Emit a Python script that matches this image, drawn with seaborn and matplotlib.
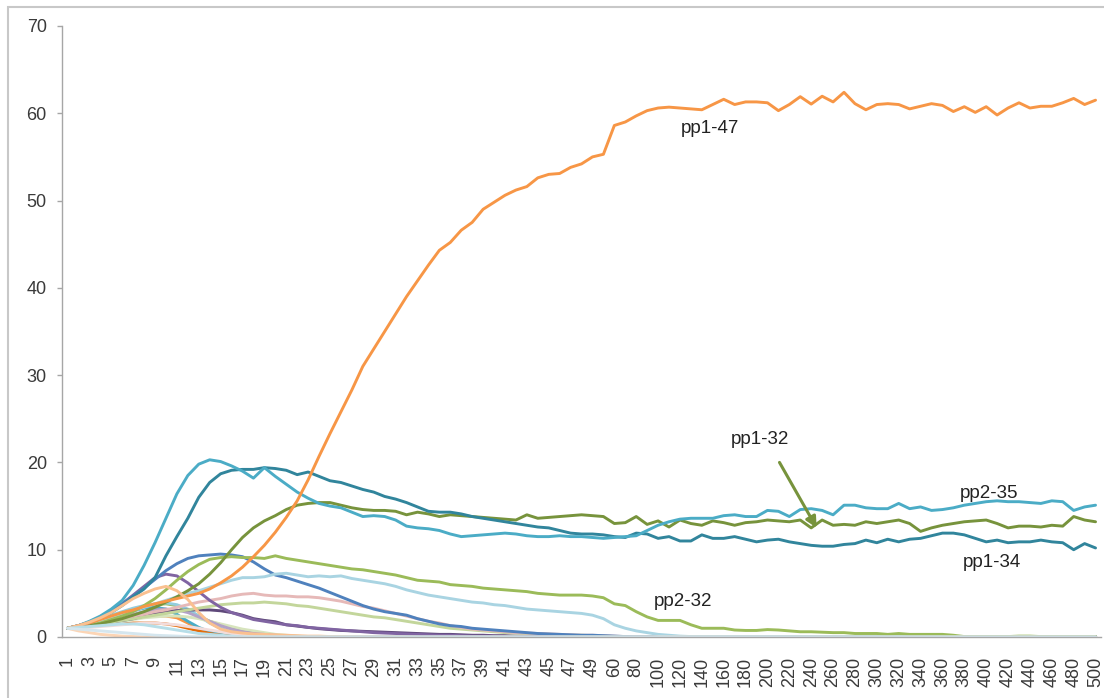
import matplotlib
matplotlib.use("Agg")
import matplotlib.pyplot as plt
import seaborn as sns
import pandas as pd
from matplotlib.patches import Rectangle

# x categories: 1..50 then 60..500 in steps of 10
categories = [str(c) for c in list(range(1, 51)) + list(range(60, 501, 10))]

# ---- labelled series ----
pp1_47 = [
    1.0, 1.3, 1.6, 2.0, 2.4, 2.8, 3.1, 3.5, 3.8, 4.1,
    4.4, 4.7, 5.0, 5.5, 6.2, 7.0, 8.0, 9.2, 10.5, 12.0,
    13.7, 15.6, 18.0, 20.7, 23.3, 25.8, 28.3, 31.0, 33.0, 35.0,
    37.0, 39.0, 40.8, 42.6, 44.3, 45.2, 46.6, 47.5, 49.0, 49.8,
    50.6, 51.2, 51.6, 52.6, 53.0, 53.1, 53.8, 54.2, 55.0, 55.3,
    58.6, 59.0, 59.7, 60.3, 60.6, 60.7, 60.6, 60.5, 60.4, 61.0,
    61.6, 61.0, 61.3, 61.3, 61.2, 60.3, 61.0, 61.9, 61.05, 61.95,
    61.3, 62.4, 61.1, 60.4, 61.0, 61.1, 61.0, 60.5, 60.8, 61.1,
    60.9, 60.2, 60.75, 60.1, 60.75, 59.8, 60.6, 61.2, 60.6, 60.8,
    60.8, 61.2, 61.7, 61.0, 61.5,
]
pp2_35 = [
    1.0, 1.3, 1.8, 2.4, 3.2, 4.2, 5.9, 8.2, 10.8, 13.6,
    16.4, 18.5, 19.8, 20.3, 20.1, 19.6, 19.0, 18.2, 19.4, 18.4,
    17.5, 16.6, 15.9, 15.3, 15.0, 14.8, 14.3, 13.8, 13.9, 13.8,
    13.4, 12.7, 12.5, 12.4, 12.2, 11.8, 11.5, 11.6, 11.7, 11.8,
    11.9, 11.8, 11.6, 11.5, 11.5, 11.6, 11.5, 11.5, 11.4, 11.3,
    11.4, 11.5, 11.6, 12.2, 12.8, 13.2, 13.5, 13.6, 13.6, 13.6,
    13.9, 14.0, 13.8, 13.8, 14.5, 14.4, 13.8, 14.6, 14.7, 14.5,
    14.0, 15.1, 15.1, 14.8, 14.7, 14.7, 15.3, 14.7, 14.9, 14.5,
    14.6, 14.8, 15.1, 15.3, 15.5, 15.6, 15.5, 15.5, 15.4, 15.3,
    15.6, 15.5, 14.5, 14.9, 15.1,
]
pp1_34 = [
    1.0, 1.2, 1.6, 2.1, 2.8, 3.6, 4.6, 5.5, 6.8, 9.3,
    11.5, 13.6, 16.0, 17.7, 18.7, 19.1, 19.2, 19.2, 19.4, 19.3,
    19.1, 18.6, 18.9, 18.4, 17.9, 17.7, 17.3, 16.9, 16.6, 16.1,
    15.8, 15.4, 14.9, 14.4, 14.3, 14.3, 14.1, 13.8, 13.6, 13.4,
    13.2, 13.0, 12.8, 12.6, 12.5, 12.2, 11.9, 11.8, 11.8, 11.7,
    11.5, 11.4, 11.9, 11.8, 11.3, 11.5, 11.0, 11.0, 11.7, 11.3,
    11.3, 11.5, 11.2, 10.9, 11.1, 11.2, 10.9, 10.7, 10.5, 10.4,
    10.4, 10.6, 10.7, 11.1, 10.8, 11.2, 10.9, 11.2, 11.3, 11.6,
    11.9, 11.9, 11.7, 11.3, 10.9, 11.1, 10.8, 10.9, 10.9, 11.1,
    10.9, 10.8, 10.0, 10.7, 10.2,
]
pp1_32 = [
    1.0, 1.1, 1.3, 1.5, 1.8, 2.1, 2.5, 2.9, 3.4, 4.0,
    4.6, 5.3, 6.1, 7.2, 8.5, 10.0, 11.4, 12.5, 13.3, 13.9,
    14.6, 15.1, 15.3, 15.4, 15.4, 15.1, 14.8, 14.6, 14.5, 14.5,
    14.4, 14.0, 14.3, 14.1, 13.8, 14.0, 13.9, 13.8, 13.7, 13.6,
    13.5, 13.4, 14.0, 13.6, 13.7, 13.8, 13.9, 14.0, 13.9, 13.8,
    13.0, 13.1, 13.8, 12.9, 13.3, 12.6, 13.4, 13.0, 12.8, 13.3,
    13.1, 12.8, 13.1, 13.2, 13.4, 13.3, 13.2, 13.4, 12.5, 13.4,
    12.8, 12.9, 12.8, 13.2, 13.0, 13.2, 13.4, 13.0, 12.1, 12.5,
    12.8, 13.0, 13.2, 13.3, 13.4, 13.0, 12.5, 12.7, 12.7, 12.6,
    12.8, 12.7, 13.8, 13.4, 13.2,
]
pp2_32 = [
    1.0, 1.15, 1.35, 1.6, 2.0, 2.4, 2.9, 3.6, 4.4, 5.4,
    6.5, 7.5, 8.3, 8.9, 9.1, 9.2, 9.1, 9.1, 9.0, 9.3,
    9.0, 8.8, 8.6, 8.4, 8.2, 8.0, 7.8, 7.7, 7.5, 7.3,
    7.1, 6.8, 6.5, 6.4, 6.3, 6.0, 5.9, 5.8, 5.6, 5.5,
    5.4, 5.3, 5.2, 5.0, 4.9, 4.8, 4.8, 4.8, 4.7, 4.5,
    3.8, 3.6, 2.9, 2.3, 1.9, 1.9, 1.9, 1.4, 1.0, 1.0,
    1.0, 0.8, 0.75, 0.75, 0.85, 0.8, 0.7, 0.6, 0.6, 0.55,
    0.5, 0.5, 0.4, 0.4, 0.4, 0.3, 0.4, 0.3, 0.3, 0.3,
    0.3, 0.2, 0.05, 0.05, 0.05, 0.05, 0.05, 0.1, 0.1, 0.05,
    0.05, 0.05, 0.05, 0.05, 0.05,
]

# ---- unlabelled mid-size series ----
lightblue = [
    1.0, 1.2, 1.5, 1.8, 2.2, 2.6, 3.0, 3.4, 3.8, 4.2,
    4.6, 5.0, 5.3, 5.7, 6.1, 6.5, 6.8, 6.8, 6.9, 7.2,
    7.3, 7.1, 6.9, 7.0, 6.9, 7.0, 6.7, 6.5, 6.3, 6.1,
    5.8, 5.4, 5.1, 4.8, 4.6, 4.4, 4.2, 4.0, 3.9, 3.7,
    3.6, 3.4, 3.2, 3.1, 3.0, 2.9, 2.8, 2.7, 2.5, 2.1,
    1.4, 1.0, 0.7, 0.5, 0.3, 0.2, 0.1, 0.05, 0.05, 0.05,
    0.05, 0.05, 0.05, 0.05, 0.05, 0.05, 0.05, 0.05, 0.05, 0.05,
    0.05, 0.05, 0.05, 0.05, 0.05, 0.05, 0.05, 0.05, 0.05, 0.05,
    0.05, 0.05, 0.05, 0.05, 0.05, 0.05, 0.05, 0.05, 0.05, 0.05,
    0.05, 0.05, 0.05, 0.05, 0.05,
]
blue = [
    1.0, 1.3, 1.7, 2.3, 3.0, 3.8, 4.7, 5.6, 6.6, 7.6,
    8.4, 9.0, 9.3, 9.4, 9.5, 9.4, 9.2, 8.6, 7.8, 7.1,
    6.8, 6.4, 6.0, 5.6, 5.1, 4.6, 4.1, 3.6, 3.2, 2.9,
    2.7, 2.5, 2.1, 1.8, 1.5, 1.3, 1.2, 1.0, 0.9, 0.8,
    0.7, 0.6, 0.5, 0.4, 0.35, 0.3, 0.25, 0.2, 0.2, 0.15,
    0.1, 0.05, 0, 0, 0, 0, 0, 0, 0, 0,
    0, 0, 0, 0, 0, 0, 0, 0, 0, 0,
    0, 0, 0, 0, 0, 0, 0, 0, 0, 0,
    0, 0, 0, 0, 0, 0, 0, 0, 0, 0,
    0, 0, 0, 0, 0,
]
purple = [
    1.0, 1.3, 1.7, 2.3, 3.0, 3.8, 4.8, 5.8, 6.8, 7.2,
    7.0, 6.2, 5.2, 4.2, 3.4, 2.8, 2.4, 2.0, 1.8, 1.6,
    1.4, 1.3, 1.1, 1.0, 0.9, 0.8, 0.7, 0.6, 0.5, 0.45,
    0.4, 0.35, 0.3, 0.25, 0.2, 0.2, 0.15, 0.1, 0.1, 0.1,
    0.05, 0.05, 0.05, 0.05, 0.05, 0, 0, 0, 0, 0,
    0, 0, 0, 0, 0, 0, 0, 0, 0, 0,
    0, 0, 0, 0, 0, 0, 0, 0, 0, 0,
    0, 0, 0, 0, 0, 0, 0, 0, 0, 0,
    0, 0, 0, 0, 0, 0, 0, 0, 0, 0,
    0, 0, 0, 0, 0,
]
peach = [
    1.0, 1.3, 1.7, 2.2, 2.8, 3.6, 4.4, 5.0, 5.5, 5.8,
    5.3, 4.3, 2.8, 1.6, 0.9, 0.6, 0.45, 0.35, 0.3, 0.25,
    0.2, 0.15, 0.1, 0.1, 0.05, 0.05, 0, 0, 0, 0,
    0, 0, 0, 0, 0, 0, 0, 0, 0, 0,
    0, 0, 0, 0, 0, 0, 0, 0, 0, 0,
    0, 0, 0, 0, 0, 0, 0, 0, 0, 0,
    0, 0, 0, 0, 0, 0, 0, 0, 0, 0,
    0, 0, 0, 0, 0, 0, 0, 0, 0, 0,
    0, 0, 0, 0, 0, 0, 0, 0, 0, 0,
    0, 0, 0, 0, 0,
]
pink = [
    1.0, 1.2, 1.4, 1.6, 1.9, 2.1, 2.4, 2.6, 2.9, 3.1,
    3.4, 3.7, 4.0, 4.2, 4.4, 4.7, 4.9, 5.0, 4.8, 4.7,
    4.7, 4.6, 4.6, 4.5, 4.3, 4.1, 3.8, 3.5, 3.3, 3.0,
    2.7, 2.4, 2.1, 1.8, 1.6, 1.3, 1.1, 0.9, 0.8, 0.7,
    0.6, 0.5, 0.45, 0.4, 0.35, 0.3, 0.25, 0.2, 0.2, 0.15,
    0.1, 0.05, 0, 0, 0, 0, 0, 0, 0, 0,
    0, 0, 0, 0, 0, 0, 0, 0, 0, 0,
    0, 0, 0, 0, 0, 0, 0, 0, 0, 0,
    0, 0, 0, 0, 0, 0, 0, 0, 0, 0,
    0, 0, 0, 0, 0,
]
palegreen = [
    1.0, 1.1, 1.3, 1.5, 1.7, 1.9, 2.1, 2.3, 2.5, 2.7,
    2.9, 3.1, 3.3, 3.5, 3.7, 3.8, 3.9, 3.9, 4.0, 3.9,
    3.8, 3.6, 3.5, 3.3, 3.1, 2.9, 2.7, 2.5, 2.3, 2.2,
    2.0, 1.8, 1.6, 1.4, 1.2, 1.0, 0.9, 0.8, 0.7, 0.6,
    0.5, 0.45, 0.4, 0.35, 0.3, 0.25, 0.2, 0.2, 0.15, 0.1,
    0.05, 0, 0, 0, 0, 0, 0, 0, 0, 0,
    0, 0, 0, 0, 0, 0, 0, 0, 0, 0,
    0, 0, 0, 0, 0, 0, 0, 0, 0, 0,
    0, 0, 0, 0, 0, 0, 0, 0, 0, 0,
    0, 0, 0, 0, 0,
]
darkpurple = [
    1.0, 1.15, 1.3, 1.5, 1.7, 1.9, 2.1, 2.4, 2.7, 2.9,
    3.0, 3.1, 3.1, 3.1, 3.0, 2.8, 2.5, 2.1, 1.9, 1.75,
    1.4, 1.25, 1.1, 0.95, 0.85, 0.75, 0.7, 0.65, 0.6, 0.55,
    0.5, 0.45, 0.4, 0.35, 0.3, 0.3, 0.25, 0.2, 0.2, 0.15,
    0.15, 0.1, 0.1, 0.1, 0.05, 0.05, 0.05, 0.05, 0.05, 0.05,
    0, 0, 0, 0, 0, 0, 0, 0, 0, 0,
    0, 0, 0, 0, 0, 0, 0, 0, 0, 0,
    0, 0, 0, 0, 0, 0, 0, 0, 0, 0,
    0, 0, 0, 0, 0, 0, 0, 0, 0, 0,
    0, 0, 0, 0, 0,
]

# ---- small series bunched near the bottom ----
sm_orange = [
    1.0, 1.2, 1.4, 1.6, 1.8, 2.0, 2.2, 2.3, 2.4, 2.4,
    2.2, 1.6, 0.9, 0.4, 0.2, 0.1, 0.05, 0, 0, 0,
    0, 0, 0, 0, 0, 0, 0, 0, 0, 0,
    0, 0, 0, 0, 0, 0, 0, 0, 0, 0,
    0, 0, 0, 0, 0, 0, 0, 0, 0, 0,
    0, 0, 0, 0, 0, 0, 0, 0, 0, 0,
    0, 0, 0, 0, 0, 0, 0, 0, 0, 0,
    0, 0, 0, 0, 0, 0, 0, 0, 0, 0,
    0, 0, 0, 0, 0, 0, 0, 0, 0, 0,
    0, 0, 0, 0, 0,
]
sm_green = [
    1.0, 1.3, 1.6, 2.0, 2.4, 2.8, 3.2, 3.5, 3.7, 3.8,
    3.6, 3.0, 2.4, 1.8, 1.4, 1.0, 0.7, 0.5, 0.3, 0.2,
    0.1, 0.05, 0, 0, 0, 0, 0, 0, 0, 0,
    0, 0, 0, 0, 0, 0, 0, 0, 0, 0,
    0, 0, 0, 0, 0, 0, 0, 0, 0, 0,
    0, 0, 0, 0, 0, 0, 0, 0, 0, 0,
    0, 0, 0, 0, 0, 0, 0, 0, 0, 0,
    0, 0, 0, 0, 0, 0, 0, 0, 0, 0,
    0, 0, 0, 0, 0, 0, 0, 0, 0, 0,
    0, 0, 0, 0, 0,
]
sm_cyan = [
    1.0, 1.3, 1.7, 2.1, 2.5, 2.9, 3.3, 3.6, 3.8, 3.9,
    3.7, 3.2, 2.4, 1.6, 1.0, 0.6, 0.3, 0.2, 0.1, 0,
    0, 0, 0, 0, 0, 0, 0, 0, 0, 0,
    0, 0, 0, 0, 0, 0, 0, 0, 0, 0,
    0, 0, 0, 0, 0, 0, 0, 0, 0, 0,
    0, 0, 0, 0, 0, 0, 0, 0, 0, 0,
    0, 0, 0, 0, 0, 0, 0, 0, 0, 0,
    0, 0, 0, 0, 0, 0, 0, 0, 0, 0,
    0, 0, 0, 0, 0, 0, 0, 0, 0, 0,
    0, 0, 0, 0, 0,
]
sm_teal = [
    1.0, 1.2, 1.5, 1.8, 2.2, 2.6, 3.0, 3.3, 3.4, 3.2,
    2.6, 1.8, 1.1, 0.6, 0.3, 0.1, 0, 0, 0, 0,
    0, 0, 0, 0, 0, 0, 0, 0, 0, 0,
    0, 0, 0, 0, 0, 0, 0, 0, 0, 0,
    0, 0, 0, 0, 0, 0, 0, 0, 0, 0,
    0, 0, 0, 0, 0, 0, 0, 0, 0, 0,
    0, 0, 0, 0, 0, 0, 0, 0, 0, 0,
    0, 0, 0, 0, 0, 0, 0, 0, 0, 0,
    0, 0, 0, 0, 0, 0, 0, 0, 0, 0,
    0, 0, 0, 0, 0,
]
sm_darkorange = [
    1.0, 1.1, 1.2, 1.3, 1.4, 1.5, 1.6, 1.6, 1.6, 1.5,
    1.3, 1.0, 0.7, 0.4, 0.2, 0.1, 0, 0, 0, 0,
    0, 0, 0, 0, 0, 0, 0, 0, 0, 0,
    0, 0, 0, 0, 0, 0, 0, 0, 0, 0,
    0, 0, 0, 0, 0, 0, 0, 0, 0, 0,
    0, 0, 0, 0, 0, 0, 0, 0, 0, 0,
    0, 0, 0, 0, 0, 0, 0, 0, 0, 0,
    0, 0, 0, 0, 0, 0, 0, 0, 0, 0,
    0, 0, 0, 0, 0, 0, 0, 0, 0, 0,
    0, 0, 0, 0, 0,
]
sm_sage = [
    1.0, 1.1, 1.2, 1.4, 1.6, 1.8, 2.0, 2.2, 2.3, 2.4,
    2.4, 2.3, 2.1, 1.8, 1.5, 1.2, 0.9, 0.7, 0.5, 0.3,
    0.2, 0.1, 0, 0, 0, 0, 0, 0, 0, 0,
    0, 0, 0, 0, 0, 0, 0, 0, 0, 0,
    0, 0, 0, 0, 0, 0, 0, 0, 0, 0,
    0, 0, 0, 0, 0, 0, 0, 0, 0, 0,
    0, 0, 0, 0, 0, 0, 0, 0, 0, 0,
    0, 0, 0, 0, 0, 0, 0, 0, 0, 0,
    0, 0, 0, 0, 0, 0, 0, 0, 0, 0,
    0, 0, 0, 0, 0,
]
sm_lavender = [
    1.0, 1.2, 1.4, 1.7, 2.0, 2.3, 2.6, 2.9, 3.1, 3.2,
    3.1, 2.8, 2.3, 1.8, 1.3, 0.9, 0.6, 0.4, 0.3, 0.2,
    0.1, 0, 0, 0, 0, 0, 0, 0, 0, 0,
    0, 0, 0, 0, 0, 0, 0, 0, 0, 0,
    0, 0, 0, 0, 0, 0, 0, 0, 0, 0,
    0, 0, 0, 0, 0, 0, 0, 0, 0, 0,
    0, 0, 0, 0, 0, 0, 0, 0, 0, 0,
    0, 0, 0, 0, 0, 0, 0, 0, 0, 0,
    0, 0, 0, 0, 0, 0, 0, 0, 0, 0,
    0, 0, 0, 0, 0,
]
sm_rose = [
    1.0, 1.0, 1.1, 1.2, 1.3, 1.4, 1.5, 1.6, 1.6, 1.5,
    1.4, 1.2, 1.0, 0.8, 0.6, 0.4, 0.3, 0.2, 0.1, 0,
    0, 0, 0, 0, 0, 0, 0, 0, 0, 0,
    0, 0, 0, 0, 0, 0, 0, 0, 0, 0,
    0, 0, 0, 0, 0, 0, 0, 0, 0, 0,
    0, 0, 0, 0, 0, 0, 0, 0, 0, 0,
    0, 0, 0, 0, 0, 0, 0, 0, 0, 0,
    0, 0, 0, 0, 0, 0, 0, 0, 0, 0,
    0, 0, 0, 0, 0, 0, 0, 0, 0, 0,
    0, 0, 0, 0, 0,
]
sm_apricot = [
    1.0, 0.7, 0.5, 0.3, 0.2, 0.1, 0.05, 0, 0, 0,
    0, 0, 0, 0, 0, 0, 0, 0, 0, 0,
    0, 0, 0, 0, 0, 0, 0, 0, 0, 0,
    0, 0, 0, 0, 0, 0, 0, 0, 0, 0,
    0, 0, 0, 0, 0, 0, 0, 0, 0, 0,
    0, 0, 0, 0, 0, 0, 0, 0, 0, 0,
    0, 0, 0, 0, 0, 0, 0, 0, 0, 0,
    0, 0, 0, 0, 0, 0, 0, 0, 0, 0,
    0, 0, 0, 0, 0, 0, 0, 0, 0, 0,
    0, 0, 0, 0, 0,
]
sm_paleblue = [
    1.0, 1.1, 1.2, 1.3, 1.4, 1.5, 1.5, 1.4, 1.2, 1.0,
    0.8, 0.6, 0.4, 0.3, 0.2, 0.1, 0, 0, 0, 0,
    0, 0, 0, 0, 0, 0, 0, 0, 0, 0,
    0, 0, 0, 0, 0, 0, 0, 0, 0, 0,
    0, 0, 0, 0, 0, 0, 0, 0, 0, 0,
    0, 0, 0, 0, 0, 0, 0, 0, 0, 0,
    0, 0, 0, 0, 0, 0, 0, 0, 0, 0,
    0, 0, 0, 0, 0, 0, 0, 0, 0, 0,
    0, 0, 0, 0, 0, 0, 0, 0, 0, 0,
    0, 0, 0, 0, 0,
]
sm_ice = [
    1.0, 0.9, 0.8, 0.7, 0.6, 0.5, 0.4, 0.3, 0.2, 0.15,
    0.1, 0.05, 0, 0, 0, 0, 0, 0, 0, 0,
    0, 0, 0, 0, 0, 0, 0, 0, 0, 0,
    0, 0, 0, 0, 0, 0, 0, 0, 0, 0,
    0, 0, 0, 0, 0, 0, 0, 0, 0, 0,
    0, 0, 0, 0, 0, 0, 0, 0, 0, 0,
    0, 0, 0, 0, 0, 0, 0, 0, 0, 0,
    0, 0, 0, 0, 0, 0, 0, 0, 0, 0,
    0, 0, 0, 0, 0, 0, 0, 0, 0, 0,
    0, 0, 0, 0, 0,
]

# drawing order (first drawn at the bottom) and colours
order = [
    ("sm_orange", sm_orange, "#F79646"),
    ("sm_green", sm_green, "#9BBB59"),
    ("sm_cyan", sm_cyan, "#93CDDD"),
    ("sm_teal", sm_teal, "#4BACC6"),
    ("sm_darkorange", sm_darkorange, "#E46C0A"),
    ("sm_sage", sm_sage, "#D7E4BD"),
    ("sm_lavender", sm_lavender, "#B3A2C7"),
    ("sm_rose", sm_rose, "#F2DCDB"),
    ("sm_apricot", sm_apricot, "#FCD5B5"),
    ("darkpurple", darkpurple, "#5F497A"),
    ("palegreen", palegreen, "#C3D69B"),
    ("pink", pink, "#E6B9B8"),
    ("purple", purple, "#8064A2"),
    ("blue", blue, "#4F81BD"),
    ("lightblue", lightblue, "#A9D4E2"),
    ("pp2-32", pp2_32, "#9BBB59"),
    ("pp1-32", pp1_32, "#77933C"),
    ("pp1-34", pp1_34, "#31859C"),
    ("pp2-35", pp2_35, "#4BACC6"),
    ("pp1-47", pp1_47, "#F79646"),
    ("peach", peach, "#FAC090"),
    ("sm_paleblue", sm_paleblue, "#B7DEE8"),
    ("sm_ice", sm_ice, "#D5E6EE"),
]

rows = []
for name, vals, _ in order:
    for pos, v in enumerate(vals):
        rows.append((pos, v, name))
df = pd.DataFrame(rows, columns=["pos", "value", "series"])
palette = {name: col for name, _, col in order}
hue_order = [name for name, _, _ in order]

sns.set_style("white")
plt.rcParams["font.family"] = ["Liberation Sans", "DejaVu Sans"]

fig = plt.figure(figsize=(11.04, 6.98), dpi=100)
ax = fig.add_axes([0.0562, 0.0874, 0.9411, 0.8754])

sns.lineplot(data=df, x="pos", y="value", hue="series", hue_order=hue_order,
             palette=palette, linewidth=2.1, legend=False, estimator=None, ax=ax)

ax.set_xlim(-0.5, len(categories) - 0.5)
ax.set_ylim(0, 70)
ax.set_yticks(range(0, 71, 10))
ax.set_xticks(range(0, len(categories), 2))
ax.set_xticklabels(categories[::2], rotation=90)
ax.set_xticks([i - 0.5 for i in range(len(categories) + 1)], minor=True)
ax.set_xlabel("")
ax.set_ylabel("")

text_color = "#3A3A3A"
axis_color = "#A6A6A6"
ax.tick_params(axis="x", which="major", length=0, pad=14, labelsize=13, labelcolor=text_color)
ax.tick_params(axis="x", which="minor", length=3.5, width=1, color=axis_color, direction="out")
ax.tick_params(axis="y", length=3.5, width=1, color=axis_color, pad=7.5, labelsize=13,
               labelcolor=text_color, direction="out", left=True)
for side in ["top", "right"]:
    ax.spines[side].set_visible(False)
for side in ["left", "bottom"]:
    ax.spines[side].set_color(axis_color)
    ax.spines[side].set_linewidth(1)

# series labels
labels = [("pp1-47", 58.7, 58.3), ("pp1-32", 63.3, 22.6), ("pp2-35", 84.3, 16.4),
          ("pp1-34", 84.5, 8.5), ("pp2-32", 56.3, 4.1)]
for txt, x, y in labels:
    ax.text(x, y, txt, ha="center", va="center", fontsize=13.5, color="#222222")

ax.annotate("", xy=(68.5, 12.5), xytext=(65.1, 20.0),
            arrowprops=dict(arrowstyle="-|>", color="#77933C", lw=2.2, mutation_scale=16,
                            shrinkA=0, shrinkB=0))

# outer chart border
fig.patches.append(Rectangle((8 / 1104, -0.05), 1.1, 1.05 - 7 / 698, transform=fig.transFigure,
                             fill=False, edgecolor="#C8C8C8", linewidth=1.5))

fig.savefig("out.png", dpi=100)
